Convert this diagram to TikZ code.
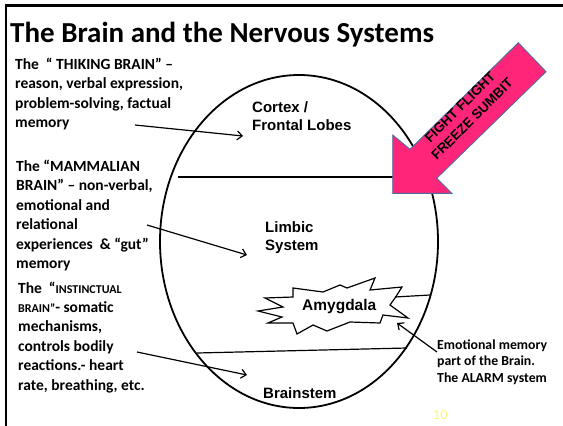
\documentclass[tikz,border=0pt]{standalone}
\usepackage{fontspec}
\setmainfont{Carlito}
\newfontfamily\arialf{Liberation Sans}
\usetikzlibrary{arrows.meta}
\definecolor{pinkarrow}{RGB}{255,38,122}
\definecolor{arrowedge}{RGB}{75,110,160}
\definecolor{pagenum}{RGB}{255,245,110}
\tikzset{
  lefttext/.style={anchor=base west, align=left, inner sep=0pt, font=\bfseries\fontsize{15.5}{19.4}\selectfont},
  brainlabel/.style={anchor=base west, align=left, inner sep=0pt, font=\arialf\bfseries\fontsize{15}{18}\selectfont},
  pointer/.style={line width=1.2pt, -{Straight Barb[length=5pt,width=9pt]}},
  divider/.style={line width=1.2pt},
  frameline/.style={line width=2.2pt},
}
\newcommand{\smallcaps}[1]{{\fontsize{12}{19.4}\selectfont #1}}
\begin{document}
\begin{tikzpicture}[x=1pt,y=-1pt]
\useasboundingbox (0,0) rectangle (563,426);
% frame
\coordinate (fTL) at (6,5.5);
\coordinate (fTR) at (563,5.5);
\coordinate (fBL) at (6,426);
\draw[frameline] (fTR) -- (fTL) -- (fBL);

% title
\node[anchor=base west, inner sep=0pt, font=\bfseries\fontsize{29}{33}\selectfont] (title) at (10,42) {The Brain and the Nervous Systems};

% brain ellipse
\coordinate (bc) at (299,241.5);
\draw[line width=1.8pt] (bc) ellipse [x radius=139pt, y radius=166.5pt];

% dividers
\coordinate (d1a) at (178,177);
\coordinate (d1b) at (427,177);
\draw[divider] (d1a) -- (d1b);
\coordinate (d2a) at (197,353);
\coordinate (d2b) at (407,348);
\draw[divider] (d2a) -- (d2b);

% amygdala starburst
\draw[line width=1.2pt, fill=white] (258,311) -- (283,307) -- (265,298) -- (293,297) -- (293,288) -- (323,292) -- (340,285) -- (347,288) -- (375,278) -- (370,290) -- (402,287) -- (395,298) -- (390,305) -- (408,318) -- (383,315) -- (380,323) -- (350,322) -- (327,331) -- (313,325) -- (297,334) -- (293,323) -- (268,323) -- (282,317) -- cycle;
\coordinate (d3a) at (395,297);
\coordinate (d3b) at (430,295);
\draw[divider] (d3a) -- (d3b);

% labels inside the brain (base anchor = baseline of last line)
\node[brainlabel] (cortex) at (252,130) {Cortex /\\Frontal Lobes};
\node[brainlabel] (limbic) at (265,250) {Limbic\\System};
\node[brainlabel, font=\arialf\bfseries\fontsize{15.5}{18}\selectfont] (amyg) at (302,310) {Amygdala};
\node[brainlabel] (stem) at (263,398) {Brainstem};

% left texts
\node[lefttext] (think) at (15,127.5) {The\ \ “ THIKING BRAIN” –\\reason, verbal expression,\\problem-solving, factual\\memory};
\node[lefttext] (mammal) at (16,268.5) {The “MAMMALIAN\\BRAIN” – non-verbal,\\emotional and\\relational\\experiences\ \ \& “gut”\\memory};
\node[lefttext] (instinct) at (18,390) {The\ \ “\smallcaps{INSTINCTUAL}\\\smallcaps{BRAIN”}- somatic\\mechanisms,\\controls bodily\\reactions.- heart\\rate, breathing, etc.};

% right text
\node[anchor=base west, align=left, inner sep=0pt, font=\bfseries\fontsize{13.8}{16.5}\selectfont] (alarm) at (437,382) {Emotional memory\\part of the Brain.\\The ALARM system};

% page number
\node[anchor=base west, inner sep=0pt, text=pagenum, font=\fontsize{14}{16}\selectfont] (pnum) at (433,419) {10};

% pointers
\coordinate (p1s) at (135,125);
\coordinate (p1e) at (243,136);
\draw[pointer] (p1s) -- (p1e);
\coordinate (p2s) at (147,225);
\coordinate (p2e) at (247,255);
\draw[pointer] (p2s) -- (p2e);
\coordinate (p3s) at (137,352);
\coordinate (p3e) at (247,375);
\draw[pointer] (p3s) -- (p3e);
\coordinate (p4s) at (437,352);
\coordinate (p4e) at (397,323);
\draw[pointer] (p4s) -- (p4e);

% big pink arrow
\draw[fill=pinkarrow, draw=arrowedge, line width=0.9pt, line join=miter]
  (518.3,42.7) -- (546,71.7) -- (436.7,178.3) -- (451.7,193.3) -- (392.7,193.3) -- (392.7,135) -- (410,149.3) -- cycle;
\node[rotate=45, align=center, inner sep=0pt, font=\arialf\bfseries\fontsize{13.5}{17}\selectfont] (ffs) at (466,113) {FIGHT FLIGHT\\FREEZE SUMBIT};
\end{tikzpicture}
\end{document}
